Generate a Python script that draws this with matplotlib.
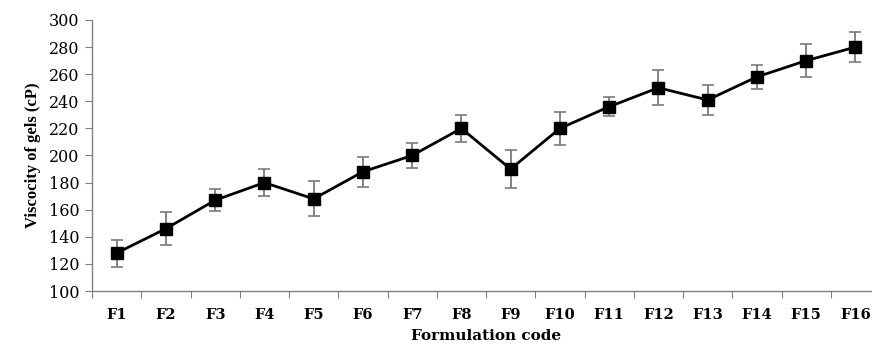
import matplotlib
matplotlib.use("Agg")
import matplotlib.pyplot as plt

categories = ["F1", "F2", "F3", "F4", "F5", "F6", "F7", "F8",
              "F9", "F10", "F11", "F12", "F13", "F14", "F15", "F16"]
viscosity = [128, 146, 167, 180, 168, 188, 200, 220,
             190, 220, 236, 250, 241, 258, 270, 280]
errors = [10, 12, 8, 10, 13, 11, 9, 10,
          14, 12, 7, 13, 11, 9, 12, 11]
y_ticks = [100, 120, 140, 160, 180, 200, 220, 240, 260, 280, 300]

plt.rcParams['font.family'] = ['Liberation Serif', 'DejaVu Serif']
tick_font = ['DejaVu Serif']

fig = plt.figure(figsize=(8.72, 3.47), dpi=100)
ax = fig.add_axes([92/872, 1-291/347, 788/872, 271/347])

x = list(range(len(categories)))
ax.errorbar(x, viscosity, yerr=errors, fmt='none', ecolor='#7a7a7a',
            elinewidth=1.3, capsize=4, capthick=1.2, zorder=2)
ax.plot(x, viscosity, color='black', lw=2.0, marker='s', markersize=8,
        markerfacecolor='black', markeredgecolor='black', zorder=3)

ax.set_xlim(-0.5, len(categories) - 0.5)
ax.set_ylim(100, 300)
ax.set_yticks(y_ticks)
ax.set_yticklabels([str(v) for v in y_ticks], fontsize=11.5, family=tick_font)
ax.set_xticks([i - 0.5 for i in range(len(categories) + 1)], minor=False)
ax.set_xticklabels([])
ax.set_xticks(x, minor=True)
ax.set_xticklabels(categories, minor=True, fontsize=10.5, fontweight='bold',
                   family=tick_font)
ax.tick_params(axis='x', which='minor', length=0, pad=12)
ax.tick_params(axis='x', which='major', length=5, color='#808080')
ax.tick_params(axis='y', length=5, color='#808080', pad=4)

for s in ['top', 'right']:
    ax.spines[s].set_visible(False)
for s in ['left', 'bottom']:
    ax.spines[s].set_color('#808080')
    ax.spines[s].set_linewidth(1.0)

ax.set_ylabel("Viscocity of gels (cP)", fontsize=12, fontweight='bold', labelpad=6)
ax.set_xlabel("Formulation code", fontsize=11, fontweight='bold', labelpad=5,
              family=tick_font)

fig.savefig("out.png", dpi=100)
